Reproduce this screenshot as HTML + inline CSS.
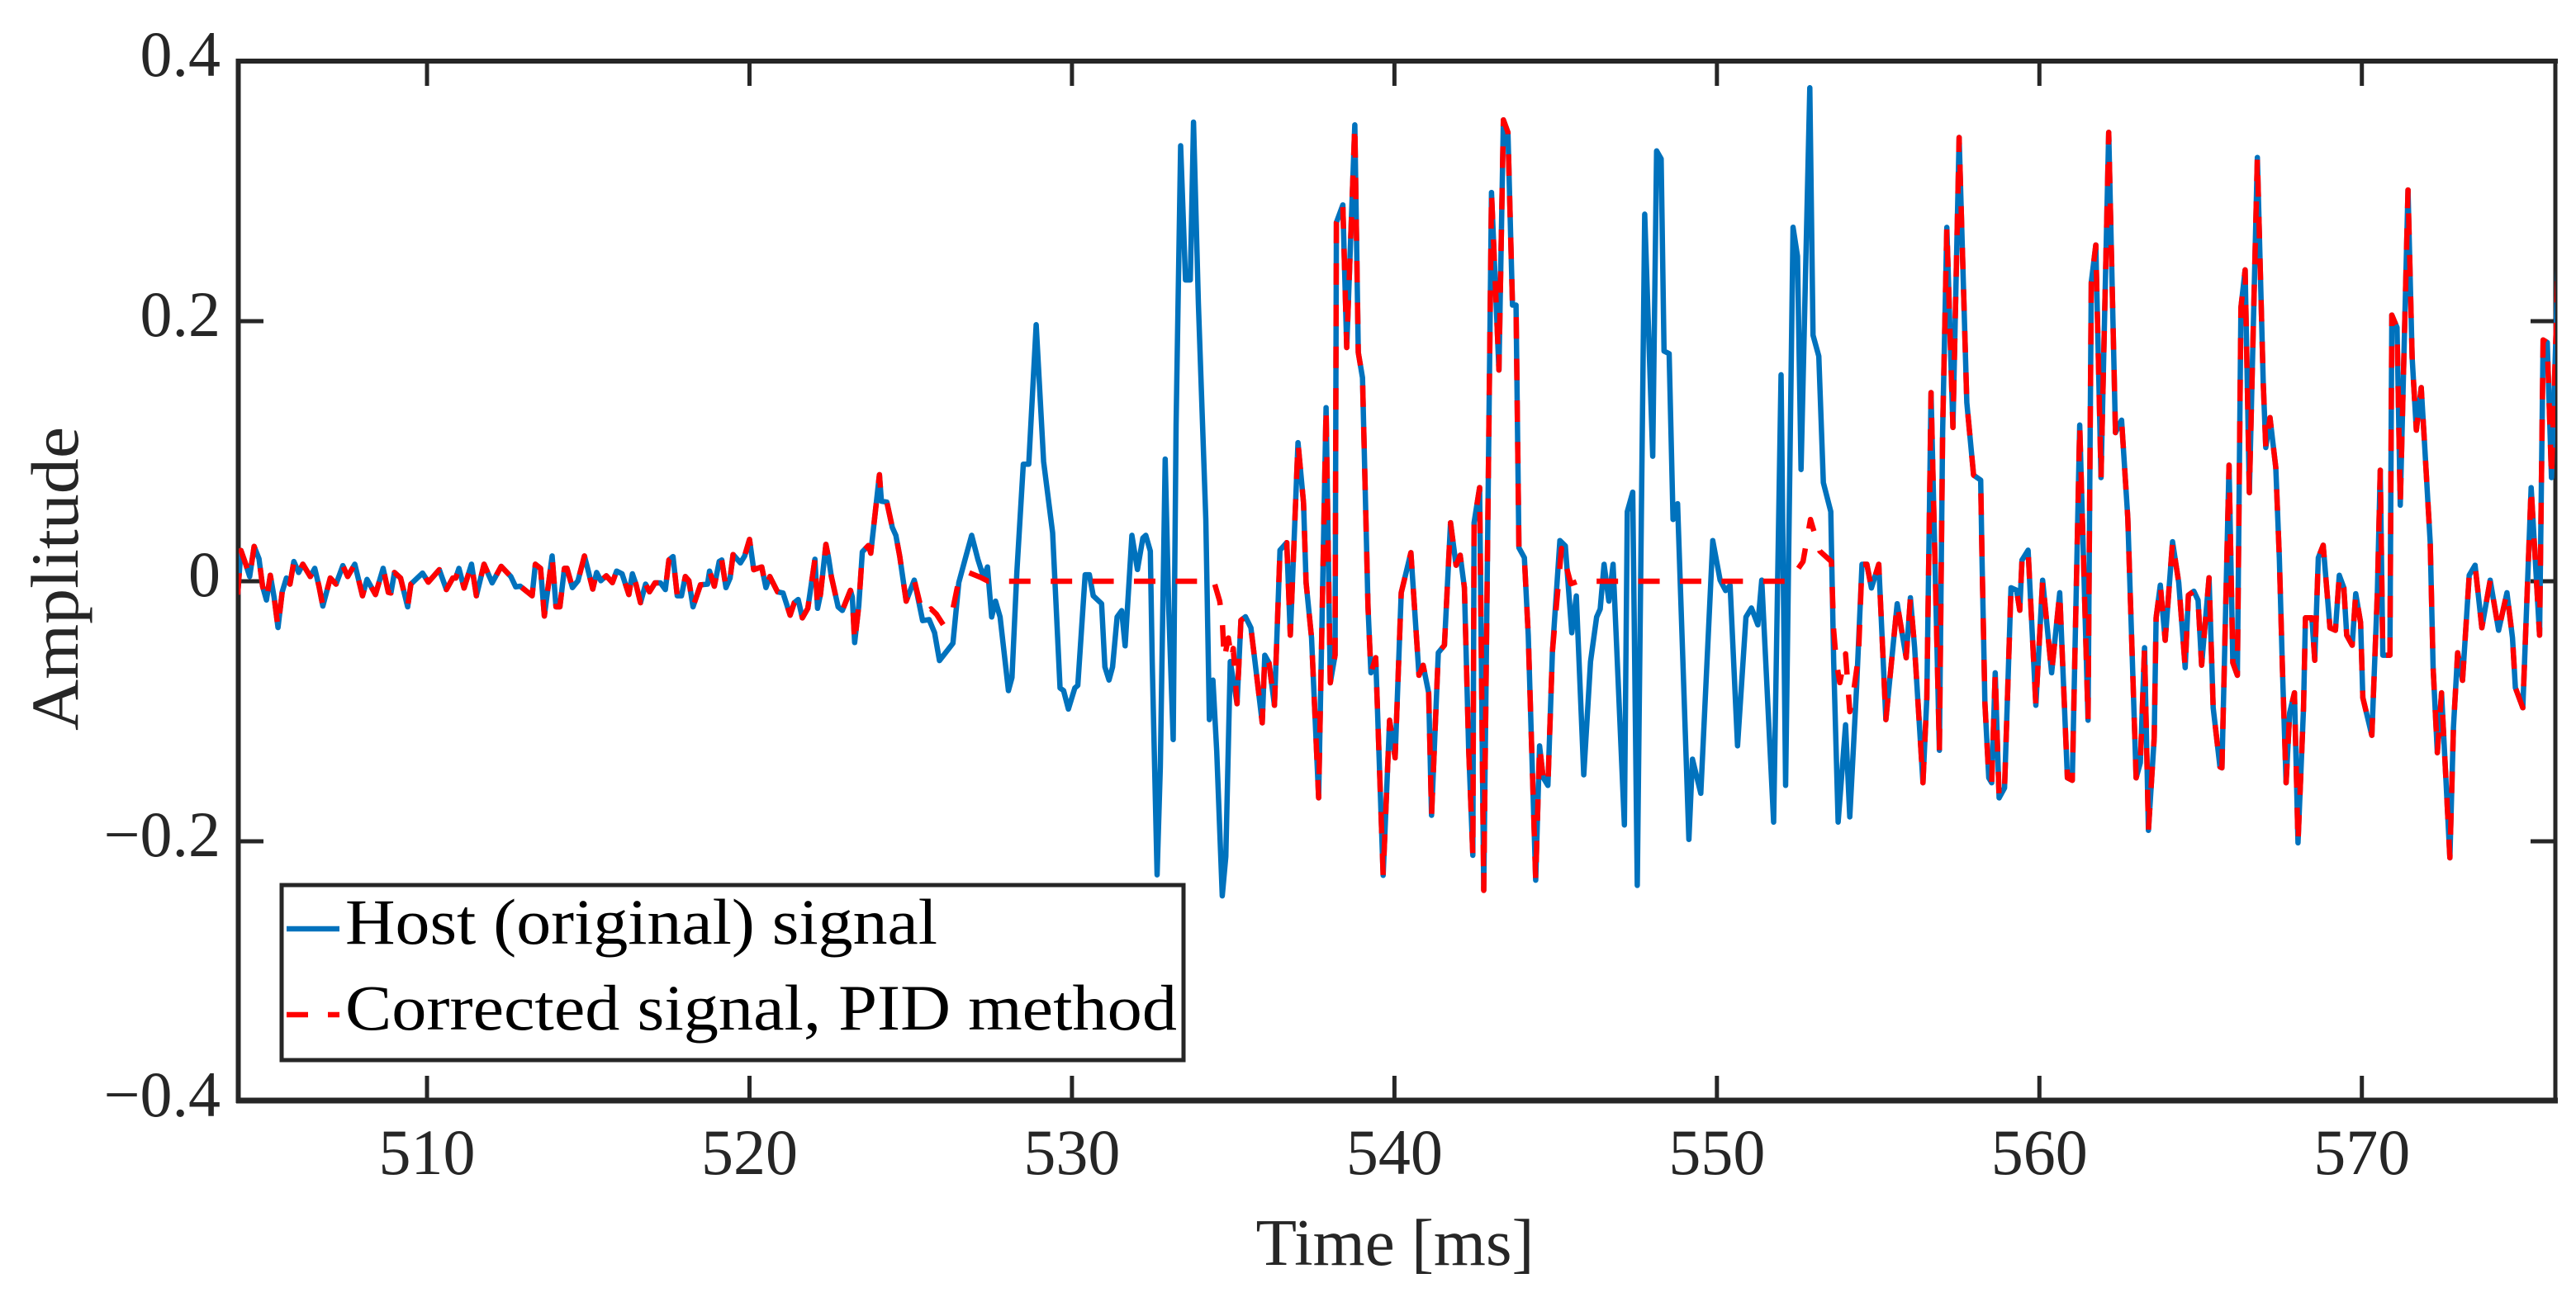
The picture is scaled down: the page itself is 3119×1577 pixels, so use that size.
<!DOCTYPE html>
<html lang="en">
<head>
<meta charset="utf-8">
<title>Host and corrected signal amplitude over time</title>
<style>
html,body{margin:0;padding:0;background:#fff;width:3119px;height:1577px;overflow:hidden}
svg{display:block;font-family:"Liberation Serif",serif}
</style>
</head>
<body>
<svg id="chart" xmlns="http://www.w3.org/2000/svg" width="3119" height="1577" viewBox="0 0 3119 1577">
  <defs><clipPath id="plot-clip"><rect x="289" y="74" width="2805" height="1260"/></clipPath></defs>
  <rect x="0" y="0" width="3119" height="1577" fill="#fff"/>
  <g id="ticks"></g>
  <g id="tick-labels"></g>
  <line x1="288.5" y1="71" x2="288.5" y2="1336" stroke="#262626" stroke-width="6"/>
  <line x1="286" y1="74" x2="3097" y2="74" stroke="#262626" stroke-width="6"/>
  <line x1="3094" y1="71" x2="3094" y2="1336" stroke="#262626" stroke-width="5"/>
  <line x1="286" y1="1333" x2="3097" y2="1333" stroke="#262626" stroke-width="7"/>
  <g clip-path="url(#plot-clip)">
    <path id="host-line" fill="none" stroke="#0072bd" stroke-width="6.5" stroke-linejoin="round"/>
    <path id="corrected-line" fill="none" stroke="#ff0000" stroke-width="6.5" stroke-linejoin="round" stroke-dasharray="26 24.4"/>
  </g>
  <text x="1689" y="1532" font-size="80" text-anchor="middle" fill="#262626" textLength="337" lengthAdjust="spacingAndGlyphs">Time [ms]</text>
  <text transform="translate(94,701) rotate(-90)" font-size="82" text-anchor="middle" fill="#262626" textLength="368" lengthAdjust="spacingAndGlyphs">Amplitude</text>
  <g>
    <rect x="341" y="1072" width="1092" height="212" fill="#fff" stroke="#262626" stroke-width="5"/>
    <line x1="347" y1="1125" x2="411" y2="1125" stroke="#0072bd" stroke-width="6.5"/>
    <text x="418" y="1143" font-size="78" fill="#000" textLength="717" lengthAdjust="spacingAndGlyphs">Host (original) signal</text>
    <line x1="347" y1="1229" x2="373" y2="1229" stroke="#ff0000" stroke-width="6.5"/>
    <line x1="397" y1="1229" x2="411" y2="1229" stroke="#ff0000" stroke-width="6.5"/>
    <text x="418" y="1247" font-size="78" fill="#000" textLength="1007" lengthAdjust="spacingAndGlyphs">Corrected signal, PID method</text>
  </g>
</svg>
<script>
const hostTime = [
504.13,504.23,504.38,504.50,504.64,504.79,504.90,505.02,505.14,505.26,
505.38,505.51,505.64,505.75,505.87,506.02,506.15,506.38,506.52,506.65,
506.77,507.00,507.18,507.39,507.54,507.76,508.00,508.14,508.40,508.64,
508.80,508.88,508.99,509.18,509.40,509.50,509.86,510.04,510.38,510.60,
510.80,510.89,510.99,511.15,511.38,511.53,511.77,512.02,512.30,512.60,
512.75,512.89,513.26,513.36,513.52,513.64,513.88,514.00,514.12,514.26,
514.34,514.51,514.68,514.88,514.98,515.14,515.26,515.39,515.56,515.75,
515.88,516.05,516.26,516.37,516.48,516.62,516.78,516.90,517.07,517.24,
517.39,517.50,517.63,517.76,517.89,518.01,518.12,518.25,518.48,518.70,
518.76,518.91,519.06,519.14,519.27,519.40,519.49,519.72,519.85,520.00,
520.13,520.38,520.51,520.63,520.87,521.04,521.26,521.39,521.51,521.64,
521.81,522.03,522.11,522.20,522.37,522.45,522.54,522.75,522.88,523.13,
523.19,523.26,523.39,523.50,523.69,523.76,524.03,524.09,524.26,524.43,
524.54,524.66,524.86,525.11,525.37,525.57,525.74,525.89,526.31,526.49,
526.71,526.89,527.08,527.26,527.38,527.51,527.63,527.77,528.03,528.14,
528.29,528.49,528.66,528.89,529.12,529.40,529.63,529.74,529.89,530.09,
530.18,530.41,530.54,530.66,530.92,531.02,531.15,531.26,531.40,531.54,
531.65,531.86,532.03,532.20,532.29,532.43,532.49,532.64,532.74,532.89,
533.00,533.14,533.23,533.37,533.52,533.67,533.77,533.92,534.15,534.26,
534.37,534.49,534.66,534.77,534.91,535.12,535.24,535.38,535.55,535.68,
535.90,535.98,536.11,536.28,536.45,536.66,536.77,537.01,537.18,537.26,
537.43,537.65,537.88,538.01,538.16,538.20,538.40,538.52,538.77,538.88,
539.01,539.18,539.27,539.42,539.65,539.85,540.02,540.21,540.51,540.76,
540.89,541.06,541.15,541.36,541.55,541.74,541.91,542.04,542.17,542.30,
542.43,542.47,542.64,542.77,543.01,543.24,543.38,543.52,543.66,543.77,
543.86,544.03,544.15,544.38,544.50,544.61,544.76,544.90,545.13,545.30,
545.50,545.64,545.87,546.08,546.27,546.38,546.50,546.65,546.78,547.13,
547.22,547.39,547.53,547.76,548.01,548.13,548.27,548.36,548.52,548.64,
548.78,549.13,549.24,549.50,549.87,550.10,550.27,550.41,550.64,550.90,
551.07,551.27,551.39,551.76,551.99,552.13,552.36,552.50,552.61,552.88,
552.98,553.16,553.30,553.53,553.62,553.76,553.99,554.12,554.33,554.50,
554.65,554.79,555.02,555.24,555.59,555.87,556.00,556.13,556.39,556.51,
556.64,556.90,557.00,557.13,557.32,557.51,557.75,557.96,558.18,558.22,
558.31,558.43,558.52,558.63,558.75,558.92,559.12,559.29,559.39,559.46,
559.65,559.89,560.10,560.38,560.63,560.87,561.02,561.25,561.51,561.61,
561.75,561.91,562.15,562.36,562.55,562.74,563.00,563.13,563.26,563.38,
563.56,563.62,563.75,563.90,564.13,564.32,564.52,564.62,564.79,564.92,
565.03,565.26,565.39,565.60,565.66,565.88,566.00,566.14,566.25,566.38,
566.51,566.76,566.94,567.02,567.15,567.33,567.44,567.54,567.65,567.76,
567.91,568.02,568.19,568.25,568.45,568.54,568.65,568.80,569.01,569.18,
569.30,569.44,569.53,569.70,569.81,569.96,570.03,570.31,570.48,570.57,
570.65,570.87,570.93,571.09,571.19,571.43,571.56,571.69,571.84,571.95,
572.12,572.21,572.34,572.47,572.73,572.84,572.97,573.12,573.33,573.51,
573.72,573.98,574.24,574.50,574.67,574.76,574.99,575.25,575.51,575.62,
575.75,575.88,576.14];
const hostAmplitude = [
-.0102,.0237,.0131,.0036,.0268,.0173,-.0038,-.0144,.0046,-.0123,
-.0356,-.0081,.0025,-.0022,.0152,.0067,.0131,.0036,.0099,-.0038,
-.0191,.0025,-.0022,.0120,.0036,.0131,-.0112,.0014,-.0102,.0099,
-.0085,-.0091,.0067,.0025,-.0197,-.0022,.0063,-.0007,.0089,-.0064,
.0025,.0025,.0099,-.0053,.0131,-.0112,.0131,-.0013,.0114,.0036,
-.0043,-.0038,-.0112,.0131,.0099,-.0267,.0194,-.0197,-.0197,.0099,
.0099,-.0049,.0004,.0194,.0099,-.0060,.0067,.0004,.0042,-.0011,
.0078,.0057,-.0102,.0057,-.0022,-.0165,-.0022,-.0081,-.0013,-.0013,
-.0064,.0163,.0190,-.0112,-.0112,.0036,.0004,-.0197,-.0028,-.0022,
.0078,-.0038,.0152,.0163,-.0049,.0025,.0205,.0141,.0194,.0321,
.0089,.0110,-.0049,.0036,-.0081,-.0091,-.0261,-.0165,-.0140,-.0282,
-.0208,.0169,-.0208,-.0102,.0283,.0184,.0036,-.0197,-.0225,-.0070,
-.0123,-.0472,-.0187,.0226,.0275,.0216,.0819,.0616,.0608,.0414,
.0353,.0191,-.0153,.0009,-.0303,-.0295,-.0396,-.0610,-.0477,-.0011,
.0191,.0353,.0171,.0029,.0110,-.0275,-.0153,-.0275,-.0841,-.0740,
.0070,.0900,.0900,.1973,.0920,.0373,-.0821,-.0841,-.0983,-.0821,
-.0801,.0050,.0050,-.0112,-.0173,-.0659,-.0760,-.0659,-.0275,-.0226,
-.0497,.0353,.0090,.0333,.0353,.0232,-.0618,-.2258,-.1428,.0940,
-.0214,-.1218,.1203,.3349,.2317,.2317,.3531,.2135,.0475,-.1064,
-.0760,-.1307,-.2420,-.2117,-.0618,-.0942,-.0300,-.0273,-.0358,-.0627,
-.1089,-.0569,-.0627,-.0954,.0239,.0297,-.0415,.1066,.0604,-.0011,
-.0434,-.1666,.1335,-.0781,-.0569,.2759,.2894,.1797,.3509,.1759,
.1566,-.0204,-.0704,-.0588,-.2262,-.1069,-.1358,-.0088,.0220,-.0723,
-.0646,-.0858,-.1800,-.0550,-.0492,.0450,.0123,.0200,-.0050,-.1281,
-.2108,.0450,.0720,-.2377,.2990,.1624,.3548,.3452,.2124,.2124,
.0258,.0181,-.0416,-.2299,-.1266,-.1509,-.1570,-.0538,.0313,.0272,
-.0396,-.0113,-.1489,-.0618,-.0275,-.0214,.0130,-.0153,.0130,-.1874,
.0535,.0685,-.2339,.2823,.0961,.3309,.3248,.1770,.1750,.0475,
.0596,-.1986,-.1368,-.1631,.0313,.0009,-.0072,-.0032,-.1266,-.0275,
-.0206,-.0335,.0009,-.1853,.1588,-.1570,.2722,.2499,.0859,.3795,
.1892,.1730,.0758,.0535,-.0618,-.1853,-.1104,-.1813,-.0821,.0130,
.0130,-.0052,.0130,-.1064,-.0173,-.0588,-.0127,-.0511,-.1550,-.0896,
.1451,-.1300,.1143,.2721,.1182,.3413,.1374,.0816,.0778,.0181,
-.0935,-.1512,-.1550,-.0704,-.1666,-.1589,-.0050,-.0069,-.0223,.0162,
.0239,-.0954,.0008,-.0704,-.0088,-.1512,-.1531,.1201,-.1069,.2297,
.2586,.0797,.3452,.1143,.1239,.0489,-.1512,-.1396,-.0511,-.1916,
-.1204,-.0281,-.0030,-.0454,.0304,-.0011,-.0665,-.0107,-.0077,-.0146,
-.0646,.0027,-.0973,-.1427,-.1435,.0893,-.0627,-.0723,.2105,.2394,
.0681,.3259,.1528,.1028,.1258,.0874,.0181,-.0704,-.1550,-.1012,
-.0858,-.2012,-.0973,-.0281,-.0281,-.0608,.0181,.0277,-.0358,-.0377,
.0046,-.0050,-.0415,-.0492,-.0096,-.0319,-.0896,-.1185,-.0088,.0854,
-.0569,-.0569,.2047,.1951,.0585,.3009,.1720,.1162,.1489,.1028,
.0297,-.0665,-.1319,-.0858,-.2127,-.1127,-.0550,-.0762,.0046,.0123,
-.0358,.0008,-.0377,-.0088,-.0435,-.0819,-.0973,.0720,-.0415,.1855,
.1836,.0797,.2855];
/* The corrected signal equals the host signal except inside these two repaired windows. */
const correctedWindowATime = [525.37,525.63,525.80,526.01,526.31,526.49,526.77,527.17,527.40,534.40,534.58,534.66,534.72,534.85,534.95,535.00,535.12];
const correctedWindowAAmplitude = [-.0254,-.0213,-.0254,-.0335,-.0213,.0009,.0070,.0029,0,0,-.0153,-.0295,-.0598,-.0436,-.0598,-.0517,-.0942];
const correctedWindowBTime = [545.18,545.47,545.70,552.21,552.33,552.67,552.90,553.19,553.55,553.62,553.70,553.81,553.99,554.12,554.22,554.39];
const correctedWindowBAmplitude = [.0252,-.0020,0,0,.0029,.0151,.0475,.0232,.0151,-.0376,-.0618,-.0780,-.0558,-.1003,-.0881,-.0578];
const xTickValues = [510,520,530,540,550,560,570];
const xTickLabels = ['510','520','530','540','550','560','570'];
const yTickValues = [0.4,0.2,0,-0.2,-0.4];
const yTickLabels = ['0.4','0.2','0','\u22120.2','\u22120.4'];
const xDomain = [504.16,576];
const yDomain = [-0.4,0.4];

function xAxis(t){return 289+(t-xDomain[0])*2805/(xDomain[1]-xDomain[0]);}
function yAxis(a){return 1334-(a-yDomain[0])*1260/(yDomain[1]-yDomain[0]);}
const NS='http://www.w3.org/2000/svg';
const ticksGroup=document.getElementById('ticks');
const labelsGroup=document.getElementById('tick-labels');
function addTick(name,x1,y1,x2,y2){
  const l=document.createElementNS(NS,'line');
  l.setAttribute('x1',x1);l.setAttribute('y1',y1);l.setAttribute('x2',x2);l.setAttribute('y2',y2);
  l.setAttribute('stroke','#262626');l.setAttribute('stroke-width','5');
  
  
  ticksGroup.appendChild(l);
}
function addLabel(name,text,x,y,anchor){
  const t=document.createElementNS(NS,'text');
  t.setAttribute('x',x);t.setAttribute('y',y);t.setAttribute('text-anchor',anchor);
  t.setAttribute('font-size','78');t.setAttribute('fill','#262626');
  t.textContent=text;
  
  
  labelsGroup.appendChild(t);
}
xTickValues.forEach(function(v,i){
  const x=xAxis(v);
  addTick('x-tick-top',x,74,x,104);
  addTick('x-tick-bottom',x,1333,x,1303);
  addLabel('x-tick-label',xTickLabels[i],x,1422,'middle');
});
yTickValues.forEach(function(v,i){
  const y=yAxis(v);
  if(v>yDomain[0]&&v<yDomain[1]){
    addTick('y-tick-left',289,y,319,y);
    addTick('y-tick-right',3094,y,3064,y);
  }
  addLabel('y-tick-label',yTickLabels[i],267,y+18,'end');
});
function linePath(times,values){
  return times.map(function(t,i){return (i?'L':'M')+xAxis(t).toFixed(1)+' '+yAxis(values[i]).toFixed(1);}).join('');
}
document.getElementById('host-line').setAttribute('d',linePath(hostTime,hostAmplitude));
const correctedPoints=[];
hostTime.forEach(function(t,i){
  const inA=t>=correctedWindowATime[0]&&t<=correctedWindowATime[correctedWindowATime.length-1];
  const inB=t>=correctedWindowBTime[0]-0.05&&t<=correctedWindowBTime[correctedWindowBTime.length-1];
  if(!inA&&!inB)correctedPoints.push([t,hostAmplitude[i]]);
});
correctedWindowATime.forEach(function(t,i){correctedPoints.push([t,correctedWindowAAmplitude[i]]);});
correctedWindowBTime.forEach(function(t,i){correctedPoints.push([t,correctedWindowBAmplitude[i]]);});
correctedPoints.sort(function(a,b){return a[0]-b[0];});
document.getElementById('corrected-line').setAttribute('d',linePath(correctedPoints.map(function(p){return p[0];}),correctedPoints.map(function(p){return p[1];})));
</script>
</body>
</html>
